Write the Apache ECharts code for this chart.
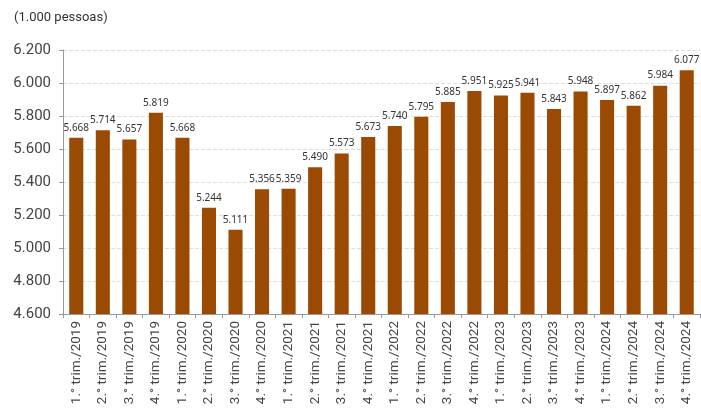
<!DOCTYPE html>
<html>
<head>
<meta charset="utf-8">
<script src="https://cdn.jsdelivr.net/npm/echarts@6/dist/echarts.min.js"></script>
<style>
  html, body { margin: 0; padding: 0; background: #fff; }
  #chart { width: 701px; height: 414px; }
</style>
</head>
<body>
<div id="chart"></div>
<script>
// Quarters shown on the category axis
const quarters = [
  '1.° trim./2019', '2.° trim./2019', '3.° trim./2019', '4.° trim./2019',
  '1.° trim./2020', '2.° trim./2020', '3.° trim./2020', '4.° trim./2020',
  '1.° trim./2021', '2.° trim./2021', '3.° trim./2021', '4.° trim./2021',
  '1.° trim./2022', '2.° trim./2022', '3.° trim./2022', '4.° trim./2022',
  '1.° trim./2023', '2.° trim./2023', '3.° trim./2023', '4.° trim./2023',
  '1.° trim./2024', '2.° trim./2024', '3.° trim./2024', '4.° trim./2024'
];

// Persons (in thousands) per quarter
const persons = [
  5668, 5714, 5657, 5819,
  5668, 5244, 5111, 5356,
  5359, 5490, 5573, 5673,
  5740, 5795, 5885, 5951,
  5925, 5941, 5843, 5948,
  5897, 5862, 5984, 6077
];

const unitLabel = '(1.000 pessoas)';

// Brazilian-style thousands separator
const fmt = v => {
  const s = String(Math.round(v));
  return s.replace(/\B(?=(\d{3})+(?!\d))/g, '.');
};

const chart = echarts.init(document.getElementById('chart'), null, { renderer: 'canvas' });
chart.setOption({
  animation: false,
  backgroundColor: '#ffffff',
  title: {
    text: unitLabel,
    left: 9,
    top: 6,
    textStyle: { fontFamily: 'Roboto', fontSize: 13, fontWeight: 'normal', color: '#333' }
  },
  grid: { left: 63, right: 1, top: 50, bottom: 100 },
  xAxis: {
    type: 'category',
    data: quarters,
    axisLine: { lineStyle: { color: '#999' } },
    axisTick: { show: true, alignWithLabel: false, length: 4, lineStyle: { color: '#999' } },
    axisLabel: {
      rotate: 90,
      interval: 0,
      margin: 7,
      fontFamily: 'Roboto',
      fontSize: 13.5,
      color: '#444'
    }
  },
  yAxis: {
    type: 'value',
    min: 4600,
    max: 6200,
    interval: 200,
    axisLine: { show: true, lineStyle: { color: '#999' } },
    axisTick: { show: true, length: 4, lineStyle: { color: '#999' } },
    splitLine: { lineStyle: { color: '#ddd', type: 'dashed' } },
    axisLabel: {
      formatter: fmt,
      fontFamily: 'Roboto',
      fontSize: 15,
      color: '#444',
      margin: 12
    }
  },
  series: [{
    type: 'bar',
    data: persons,
    barCategoryGap: '47%',
    itemStyle: { color: '#9a4a03' },
    label: {
      show: true,
      position: 'top',
      distance: 5,
      formatter: p => fmt(p.value),
      fontFamily: 'Noto Sans',
      fontSize: 10,
      color: '#333'
    }
  }]
});
</script>
</body>
</html>
